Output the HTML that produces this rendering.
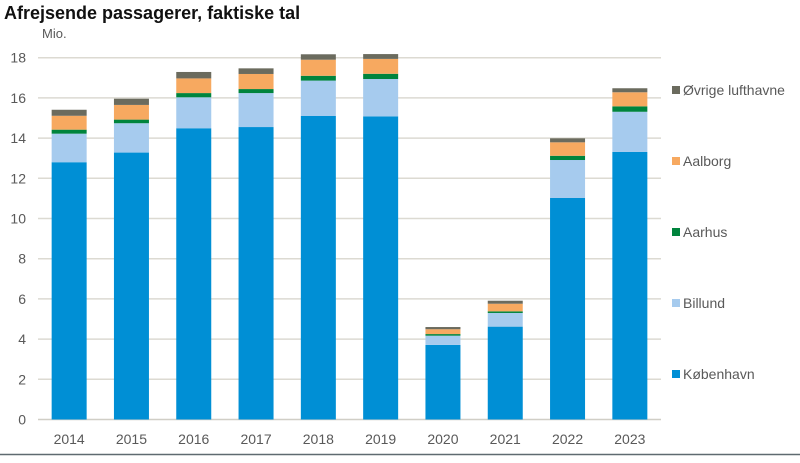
<!DOCTYPE html>
<html><head><meta charset="utf-8">
<style>
body{margin:0;background:#fff;}
svg text{font-family:"Liberation Sans",sans-serif;}
</style></head>
<body>
<svg id="chart" width="800" height="458" viewBox="0 0 800 458" xmlns="http://www.w3.org/2000/svg">
<text x="4" y="19" font-size="18" font-weight="bold" fill="#111">Afrejsende passagerer, faktiske tal</text>
<text x="42" y="38" font-size="13" fill="#595959">Mio.</text>
<g id="grid"></g>
<g id="bars"></g>
<g id="xlabels"></g>
<g id="legend"></g>
<line x1="0" y1="454.5" x2="800" y2="454.5" stroke="#5f6a70" stroke-width="1.5"/>
</svg>
<script>
const years=["2014","2015","2016","2017","2018","2019","2020","2021","2022","2023"];
const kobenhavn=[12.8,13.28,14.49,14.55,15.1,15.08,3.71,4.62,11.02,13.31];
const billund=[1.42,1.46,1.54,1.69,1.76,1.86,0.46,0.68,1.89,2.0];
const aarhus=[0.2,0.18,0.21,0.2,0.24,0.26,0.08,0.08,0.21,0.27];
const aalborg=[0.69,0.73,0.73,0.75,0.8,0.74,0.24,0.38,0.67,0.7];
const ovrige=[0.3,0.31,0.32,0.28,0.27,0.24,0.11,0.15,0.2,0.2];
const yTicks=[0,2,4,6,8,10,12,14,16,18];
const seriesNames=["København","Billund","Aarhus","Aalborg","Øvrige lufthavne"];

const NS="http://www.w3.org/2000/svg";
const series=[kobenhavn,billund,aarhus,aalborg,ovrige];
const colors=["#008fd5","#a6cbee","#00843d","#f7a960","#6b6b5e"];
const slugs=["kobenhavn","billund","aarhus","aalborg","ovrige-lufthavne"];
const x0=38,x1=661,yZero=419.5,pxPer=20.1;
const y=v=>yZero-v*pxPer;
const step=(x1-x0)/years.length, bw=35;
const xc=i=>x0+step*(i+0.5);
function mk(tag,attrs,parent){const e=document.createElementNS(NS,tag);for(const k in attrs)e.setAttribute(k,attrs[k]);parent.appendChild(e);return e;}
const grid=document.getElementById('grid');
yTicks.forEach(t=>{
  const l=mk('line',{x1:x0,x2:x1,y1:y(t),y2:y(t),stroke:t===0?'#d0cec6':'#dcdad2','stroke-width':1.5},grid);
  
  
  const tx=mk('text',{x:26,y:y(t)+5,'text-anchor':'end','font-size':14,fill:'#595959'},grid);
  tx.textContent=t;
  
  
});
const bars=document.getElementById('bars');
years.forEach((yr,i)=>{
  let base=0;
  series.forEach((s,k)=>{
    const v=s[i];
    const r=mk('rect',{x:xc(i)-bw/2,y:y(base+v),width:bw,height:v*pxPer,fill:colors[k]},bars);
    
    
    base+=v;
  });
  const tx=mk('text',{x:xc(i),y:444,'text-anchor':'middle','font-size':14,fill:'#595959'},document.getElementById('xlabels'));
  tx.textContent=yr;
  
  
});
const legend=document.getElementById('legend');
const legY=[374,303,232,161,90];
seriesNames.forEach((n,k)=>{
  const g=mk('g',{},legend);
  
  
  mk('rect',{x:672,y:legY[k]-4,width:8,height:8,fill:colors[k]},g);
  const t=mk('text',{x:683,y:legY[k]+5,'font-size':14,fill:'#595959'},g);
  t.textContent=n;
});
</script>
</body></html>
